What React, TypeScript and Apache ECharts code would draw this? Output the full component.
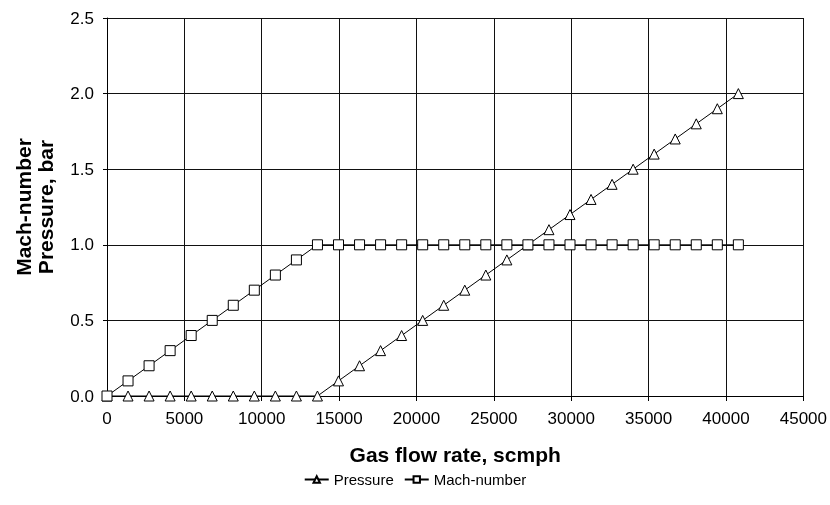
import React, { useEffect, useRef } from "react";
import * as echarts from "echarts";

const flowRates = [
  0, 1360, 2720, 4080, 5440, 6800, 8160, 9520, 10880, 12240, 13600, 14960, 16320,
  17680, 19040, 20400, 21760, 23120, 24480, 25840, 27200, 28560, 29920, 31280,
  32640, 34000, 35360, 36720, 38080, 39440, 40800,
];
const pressure = [
  0, 0, 0, 0, 0, 0, 0, 0, 0, 0, 0, 0.1, 0.2, 0.3, 0.4, 0.5, 0.6, 0.7, 0.8, 0.9,
  1.0, 1.1, 1.2, 1.3, 1.4, 1.5, 1.6, 1.7, 1.8, 1.9, 2.0,
];
const machNumber = [
  0, 0.1, 0.2, 0.3, 0.4, 0.5, 0.6, 0.7, 0.8, 0.9, 1, 1, 1, 1, 1, 1, 1, 1, 1, 1, 1,
  1, 1, 1, 1, 1, 1, 1, 1, 1, 1,
];

export default function App() {
  const ref = useRef<HTMLDivElement>(null);
  useEffect(() => {
    const chart = echarts.init(ref.current!, null, { renderer: "svg" });
    const font = "'Liberation Sans', Arial, sans-serif";
    chart.setOption({
      animation: false,
      textStyle: { fontFamily: font },
      grid: { left: 107, right: 25, top: 18, bottom: 109, containLabel: false },
      xAxis: {
        type: "value",
        min: 0,
        max: 45000,
        interval: 5000,
        name: "Gas flow rate, scmph",
        nameLocation: "middle",
        nameGap: 48,
        nameTextStyle: { fontSize: 21, fontWeight: "bold", color: "#000", fontFamily: font },
        axisLine: { show: true, lineStyle: { color: "#000", width: 1 } },
        axisTick: { show: true, length: 5, lineStyle: { color: "#000" } },
        axisLabel: {
          fontSize: 17,
          color: "#000",
          margin: 14,
          fontFamily: font,
          formatter: (v: number) => String(v),
        },
        splitLine: { show: true, lineStyle: { color: "#111", width: 1 } },
      },
      yAxis: {
        type: "value",
        min: 0,
        max: 2.5,
        interval: 0.5,
        name: "Mach-number\nPressure, bar",
        nameLocation: "middle",
        nameGap: 51,
        nameTextStyle: { fontSize: 21, fontWeight: "bold", color: "#000", lineHeight: 22, fontFamily: font },
        axisLine: { show: true, lineStyle: { color: "#000", width: 1 } },
        axisTick: { show: true, length: 4, lineStyle: { color: "#000" } },
        axisLabel: {
          fontSize: 17,
          color: "#000",
          margin: 13,
          fontFamily: font,
          formatter: (v: number) => v.toFixed(1),
        },
        splitLine: { show: true, lineStyle: { color: "#111", width: 1 } },
      },
      legend: {
        top: 467,
        left: "center",
        itemWidth: 24,
        itemHeight: 8,
        itemGap: 10,
        textStyle: { fontSize: 15, color: "#000", fontFamily: font },
        data: ["Pressure", "Mach-number"],
      },
      series: [
        {
          name: "Pressure",
          type: "line",
          data: flowRates.map((x, i) => [x, pressure[i]]),
          symbol: "triangle",
          symbolSize: 10,
          showAllSymbol: true,
          lineStyle: { color: "#000", width: 1 },
          itemStyle: { color: "#fff", borderColor: "#000", borderWidth: 1 },
          z: 3,
        },
        {
          name: "Mach-number",
          type: "line",
          data: flowRates.map((x, i) => [x, machNumber[i]]),
          symbol: "rect",
          symbolSize: 10,
          showAllSymbol: true,
          lineStyle: { color: "#000", width: 1 },
          itemStyle: { color: "#fff", borderColor: "#000", borderWidth: 1 },
          z: 4,
        },
      ],
    });
    return () => chart.dispose();
  }, []);
  return (
    <div
      ref={ref}
      style={{ position: "fixed", left: 0, top: 0, width: 830, height: 505 }}
    />
  );
}
